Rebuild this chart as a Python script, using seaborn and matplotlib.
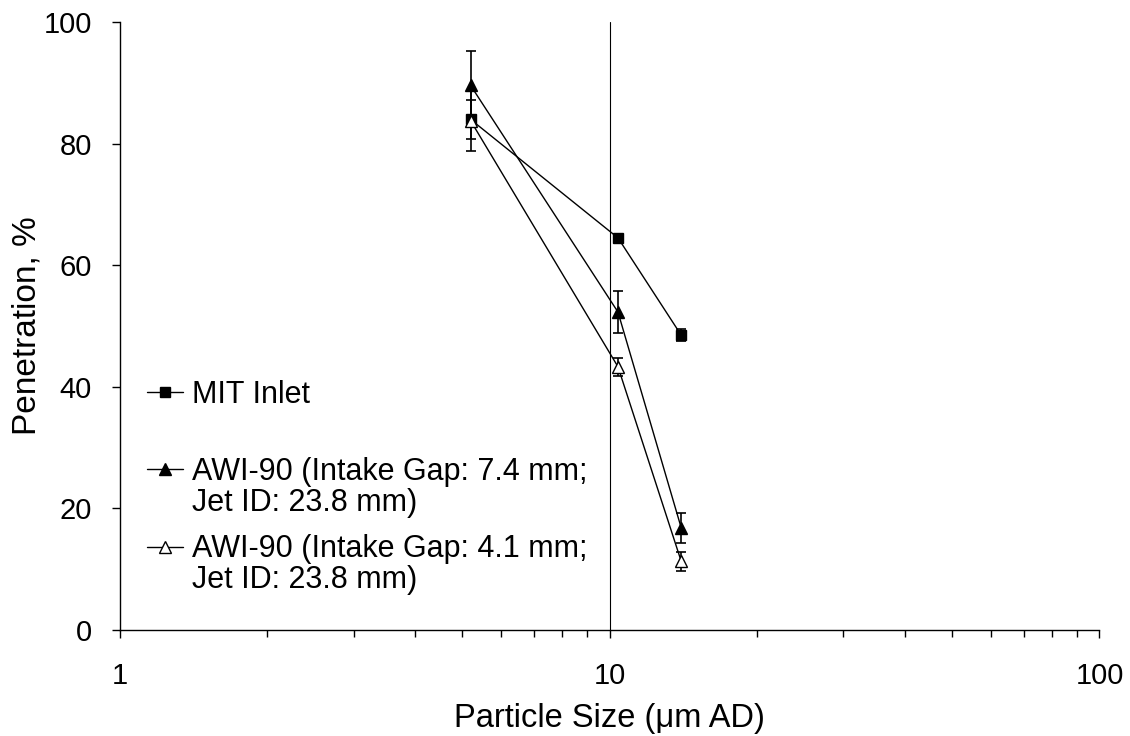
import matplotlib
matplotlib.use("Agg")
import matplotlib.pyplot as plt
import numpy as np
import pandas as pd
import seaborn as sns

particle_size = [5.2, 10.4, 14.0]

mit_pen = [84.0, 64.5, 48.5]
mit_err = [3.2, 0.6, 1.0]

awi74_pen = [89.6, 52.3, 16.8]
awi74_err = [5.6, 3.4, 2.5]

awi41_pen = [83.8, 43.3, 11.3]
awi41_err = [5.0, 1.5, 1.6]

labels = ["MIT Inlet",
          "AWI-90 (Intake Gap: 7.4 mm;",
          "AWI-90 (Intake Gap: 4.1 mm;"]
second_lines = [None, "Jet ID: 23.8 mm)", "Jet ID: 23.8 mm)"]


def plot_penetration():
    sns.set_style("ticks")
    plt.rcParams['font.family'] = ['Liberation Sans', 'DejaVu Sans']
    plt.rcParams.update({'text.color': 'black', 'axes.labelcolor': 'black',
                         'xtick.color': 'black', 'ytick.color': 'black'})

    fig = plt.figure(figsize=(11.3, 7.36), dpi=100)
    ax = fig.add_axes([0.106, 0.144, 0.867, 0.826])

    series = [
        (mit_pen, mit_err, 's', 'black', 7.5),
        (awi74_pen, awi74_err, '^', 'black', 9),
        (awi41_pen, awi41_err, '^', 'white', 9),
    ]
    for (pen, err, marker, face, ms), label in zip(series, labels):
        ax.errorbar(particle_size, pen, yerr=err, fmt='none', ecolor='black',
                    elinewidth=1.2, capsize=3.6, capthick=1.2, zorder=2)
        df = pd.DataFrame({'size': particle_size, 'pen': pen})
        sns.lineplot(data=df, x='size', y='pen', ax=ax, color='black', lw=1.0,
                     marker=marker, markersize=ms, markerfacecolor=face,
                     markeredgecolor='black', markeredgewidth=1.0,
                     label=label, zorder=3)

    ax.axvline(10, color='black', lw=0.8, zorder=1)

    ax.set_xscale('log')
    ax.set_xlim(1, 100)
    ax.set_ylim(0, 100)
    ax.set_yticks([0, 20, 40, 60, 80, 100])
    ax.set_xticks([1, 10, 100])
    ax.set_xticklabels(['1', '10', '100'])
    ax.tick_params(axis='both', which='major', labelsize=21, direction='out',
                   length=6, width=1, colors='black')
    ax.tick_params(axis='y', pad=14)
    ax.tick_params(axis='x', pad=17)
    ax.tick_params(axis='x', which='minor', direction='out', length=5, width=1)
    sns.despine(ax=ax)
    for s in ['left', 'bottom']:
        ax.spines[s].set_color('black')
        ax.spines[s].set_linewidth(1)

    ax.set_xlabel('Particle Size (\u03bcm AD)', fontsize=23.5, labelpad=9.5)
    ax.set_ylabel('Penetration, %', fontsize=24, labelpad=0.5)

    leg = ax.legend(loc='upper left', bbox_to_anchor=(0.0151, 0.432), frameon=False,
                    fontsize=22, handlelength=1.18, handletextpad=0.3,
                    labelspacing=1.55, borderaxespad=0)
    for txt, extra in zip(leg.get_texts(), second_lines):
        if extra:
            ax.annotate(extra, xy=(0, 0.5), xycoords=txt, xytext=(0, -31),
                        textcoords='offset pixels', ha='left', va='center',
                        fontsize=22, zorder=10)

    plt.savefig('out.png', dpi=100)


if __name__ == "__main__":
    plot_penetration()
